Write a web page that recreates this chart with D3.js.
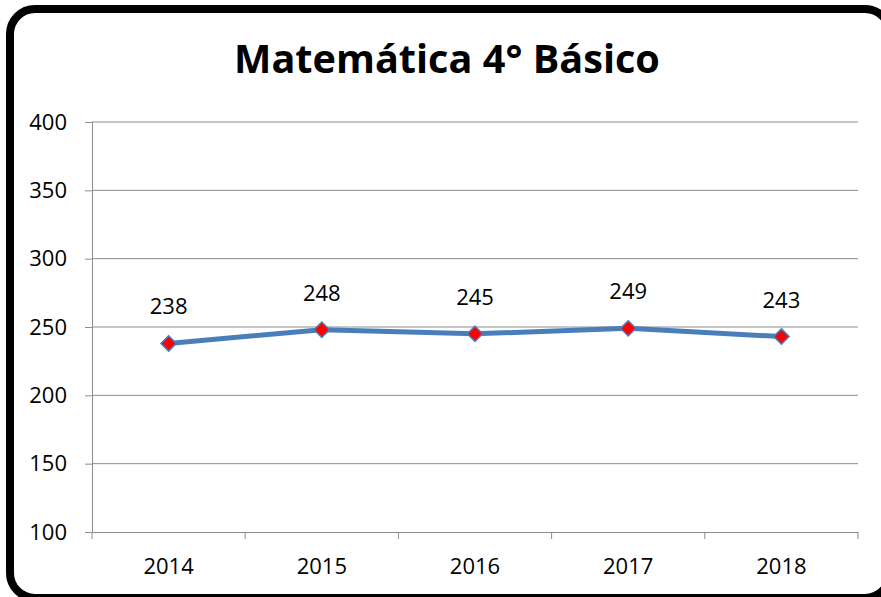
<!DOCTYPE html>
<html>
<head>
<meta charset="utf-8">
<script src="https://cdn.jsdelivr.net/npm/d3@7"></script>
<style>
  body { margin: 0; background: #fff; overflow: hidden; }
  svg { display: block; }
</style>
</head>
<body>
<script>
const title = 'Matemática 4° Básico';
const years = ['2014', '2015', '2016', '2017', '2018'];
const scores = [238, 248, 245, 249, 243];
const yTicks = [100, 150, 200, 250, 300, 350, 400];

const svgWidth = 881;
const svgHeight = 597;
const margin = { top: 122, bottom: 65, right: 23, left: 92 };
const width = svgWidth - margin.left - margin.right;
const height = svgHeight - margin.top - margin.bottom;
const font = '"Open Sans", "Noto Sans", sans-serif';
const gridColor = '#8c8c8c';

const root = d3.select('body')
    .append('svg')
    .attr('width', svgWidth)
    .attr('height', svgHeight);

// rounded frame, right and bottom edges run off the picture
root.append('rect')
    .attr('x', 10)
    .attr('y', 9)
    .attr('width', 880)
    .attr('height', 589)
    .attr('rx', 25)
    .attr('fill', 'white')
    .attr('stroke', 'black')
    .attr('stroke-width', 8);

const titleText = root.append('text')
    .attr('x', 447)
    .attr('y', 73)
    .attr('text-anchor', 'middle')
    .style('font-family', font)
    .style('font-weight', 'bold')
    .style('font-size', '42px')
    .text(title);
// fit title width to the reference
const tw = titleText.node().getComputedTextLength();
if (tw > 426) titleText.style('font-size', (42 * 426 / tw) + 'px');

const svg = root.append('g')
    .attr('transform', `translate(${margin.left}, ${margin.top})`);

const x = d3.scaleBand()
    .domain(years)
    .range([0, width]);

const y = d3.scaleLinear()
    .domain([100, 400])
    .range([height, 0]);

// gridlines
svg.selectAll('.grid')
    .data(yTicks.filter(t => t > 100))
    .enter()
    .append('line')
    .attr('x1', 0)
    .attr('x2', width)
    .attr('y1', d => y(d))
    .attr('y2', d => y(d))
    .attr('stroke', gridColor)
    .attr('stroke-width', 1);

const yAxis = svg.append('g')
    .call(d3.axisLeft(y).tickValues(yTicks).tickSize(7).tickPadding(18));
yAxis.selectAll('line, path').attr('stroke', gridColor);
yAxis.selectAll('text')
    .style('font-family', font)
    .style('font-size', '22px')
    .style('fill', 'black');

const xAxis = svg.append('g')
    .attr('transform', `translate(0,${height})`)
    .call(d3.axisBottom(x).tickSize(0).tickPadding(26));
xAxis.select('path').attr('stroke', gridColor);
xAxis.selectAll('text')
    .style('font-family', font)
    .style('font-size', '22px')
    .style('fill', 'black');

// category boundary ticks
svg.selectAll('.xtick')
    .data(years.concat(['end']))
    .enter()
    .append('line')
    .attr('x1', (d, i) => i * x.step())
    .attr('x2', (d, i) => i * x.step())
    .attr('y1', height)
    .attr('y2', height + 7)
    .attr('stroke', gridColor);

const cx = d => x(d) + x.bandwidth() / 2;

const line = d3.line()
    .x((d, i) => cx(years[i]))
    .y(d => y(d));

svg.append('path')
    .datum(scores)
    .attr('d', line)
    .attr('fill', 'none')
    .attr('stroke', '#4a7ebb')
    .attr('stroke-width', 5)
    .attr('stroke-linejoin', 'round');

svg.selectAll('.marker')
    .data(scores)
    .enter()
    .append('path')
    .attr('d', d3.symbol().type(d3.symbolDiamond2).size(150))
    .attr('transform', (d, i) => `translate(${cx(years[i])},${y(d)})`)
    .attr('fill', '#ff0000')
    .attr('stroke', '#4a7ebb')
    .attr('stroke-width', 1.5);

svg.selectAll('.label')
    .data(scores)
    .enter()
    .append('text')
    .attr('x', (d, i) => cx(years[i]))
    .attr('y', d => y(d) - 29)
    .attr('text-anchor', 'middle')
    .style('font-family', font)
    .style('font-size', '22px')
    .text(d => d);
</script>
</body>
</html>
